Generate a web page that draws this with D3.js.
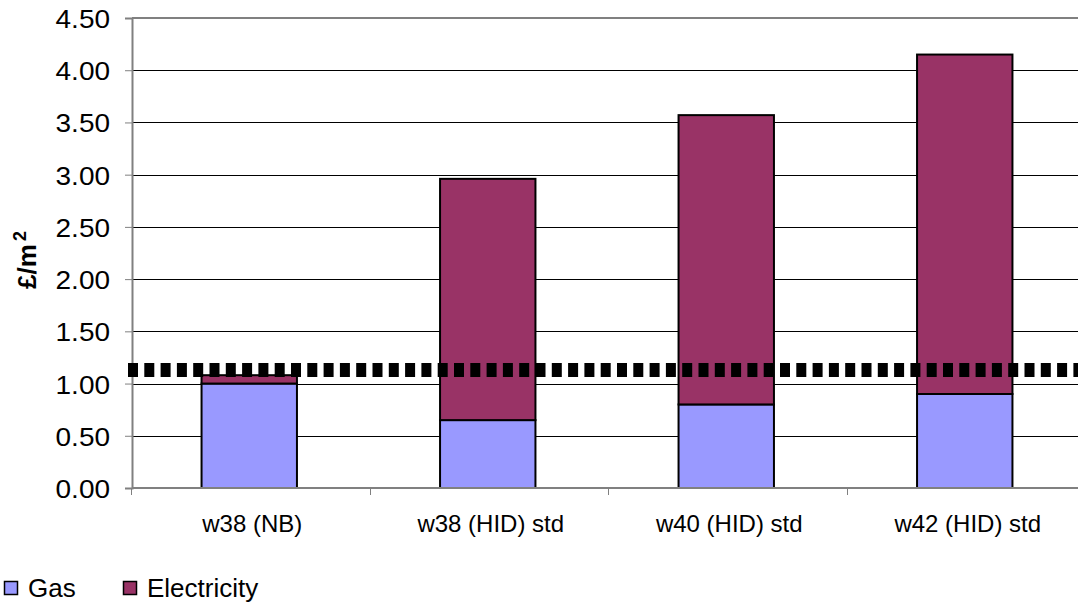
<!DOCTYPE html>
<html>
<head>
<meta charset="utf-8">
<script src="https://cdn.jsdelivr.net/npm/d3@7"></script>
<style>
  html, body { margin: 0; padding: 0; background: #fff; }
  svg { display: block; font-family: "Liberation Sans", Arial, sans-serif; }
</style>
</head>
<body>
<svg id="chart" width="1078" height="606"></svg>
<script>
// Heating cost per square metre, split by energy source
const categories = ["w38 (NB)", "w38 (HID) std", "w40 (HID) std", "w42 (HID) std"];
const gas = [1.00, 0.65, 0.80, 0.90];
const electricity = [0.08, 2.31, 2.77, 3.25];
const seriesNames = ["Gas", "Electricity"];
const yTicks = [0, 0.5, 1, 1.5, 2, 2.5, 3, 3.5, 4, 4.5];
const referenceLevel = 1.13;

const colors = { Gas: "#9999ff", Electricity: "#993366" };
const FONT = "'Liberation Sans', Arial, sans-serif";

const W = 1078, H = 606;
const plot = { left: 132, top: 18, bottom: 488, right: 1085 };

const svg = d3.select("#chart");

const x = d3.scaleBand().domain(categories).range([131, plot.right]).padding(0);
const y = d3.scaleLinear().domain([0, 4.5]).range([plot.bottom, plot.top]);

// Gridlines
svg.append("g")
  .selectAll("line")
  .data(yTicks.filter(d => d > 0 && d < 4.5))
  .join("line")
  .attr("x1", plot.left).attr("x2", W)
  .attr("y1", d => Math.round(y(d)) + 0.5).attr("y2", d => Math.round(y(d)) + 0.5)
  .attr("stroke", "#000").attr("stroke-width", 1);

// Top border of the plot area
svg.append("line")
  .attr("x1", plot.left).attr("x2", W)
  .attr("y1", plot.top).attr("y2", plot.top)
  .attr("stroke", "#808080").attr("stroke-width", 2);

// Stacked bars
const rows = categories.map((c, i) => ({ cat: c, Gas: gas[i], Electricity: electricity[i] }));
const stack = d3.stack().keys(seriesNames)(rows);
const barW = x.bandwidth() * 0.4;

svg.append("g")
  .selectAll("g")
  .data(stack)
  .join("g")
  .attr("fill", d => colors[d.key])
  .selectAll("rect")
  .data(d => d)
  .join("rect")
  .attr("x", d => x(d.data.cat) + x.bandwidth() / 2 - barW / 2 - 1)
  .attr("width", barW)
  .attr("y", d => y(d[1]))
  .attr("height", d => y(d[0]) - y(d[1]))
  .attr("stroke", "#000")
  .attr("stroke-width", 2);

// Y axis
const yAxis = d3.axisLeft(y).tickValues(yTicks).tickFormat(d3.format(".2f")).tickSize(7).tickPadding(15);
const gy = svg.append("g").attr("transform", `translate(${plot.left},0)`).call(yAxis);
gy.select(".domain").attr("stroke", "#808080").attr("stroke-width", 2);
gy.selectAll(".tick line").attr("stroke", "#808080");
gy.selectAll(".tick text")
  .attr("font-size", 25).attr("fill", "#000")
  .attr("font-family", FONT)
  .attr("x", -22 / 1.12)
  .attr("transform", "scale(1.12,1)")
  .attr("dy", "0.38em");

// X axis
const xAxis = d3.axisBottom(x).tickSize(0).tickPadding(28);
const gx = svg.append("g").attr("transform", `translate(0,${plot.bottom})`).call(xAxis);
gx.select(".domain").remove();
svg.append("line")
  .attr("x1", plot.left).attr("x2", W)
  .attr("y1", plot.bottom).attr("y2", plot.bottom)
  .attr("stroke", "#808080").attr("stroke-width", 2);
gx.selectAll(".tick text")
  .attr("font-size", 24).attr("fill", "#000")
  .attr("font-family", FONT)
  .attr("x", 2)
  .attr("dy", "0.68em");

// Category separator ticks
const sepX = categories.map(c => x(c)).concat([x(categories[3]) + x.bandwidth()]);
svg.append("g")
  .selectAll("line")
  .data(sepX)
  .join("line")
  .attr("x1", d => Math.round(d) + 0.5).attr("x2", d => Math.round(d) + 0.5)
  .attr("y1", plot.bottom).attr("y2", plot.bottom + 7)
  .attr("stroke", "#808080").attr("stroke-width", 1);

// Reference level (dotted)
svg.append("line")
  .attr("x1", 128).attr("x2", W)
  .attr("y1", y(referenceLevel)).attr("y2", y(referenceLevel))
  .attr("stroke", "#000").attr("stroke-width", 14)
  .attr("stroke-dasharray", "10,6.3");

// Y axis title
const title = svg.append("text")
  .attr("transform", `translate(36,260) rotate(-90)`)
  .attr("text-anchor", "middle")
  .attr("font-size", 26).attr("font-weight", "bold")
  .attr("font-family", FONT);
title.append("tspan").text("£/m");
title.append("tspan").attr("font-size", 18).attr("dx", 3).attr("dy", -10).text("2");

// Legend
const legend = svg.append("g");
const legendX = [4, 123];
seriesNames.forEach((name, i) => {
  legend.append("rect")
    .attr("x", legendX[i] + 0.5).attr("y", 581.5)
    .attr("width", 13).attr("height", 13)
    .attr("fill", colors[name]).attr("stroke", "#000").attr("stroke-width", 1.5);
  legend.append("text")
    .attr("x", legendX[i] + 24).attr("y", 597)
    .attr("font-size", 26)
    .attr("font-family", FONT)
    .text(name);
});
</script>
</body>
</html>
